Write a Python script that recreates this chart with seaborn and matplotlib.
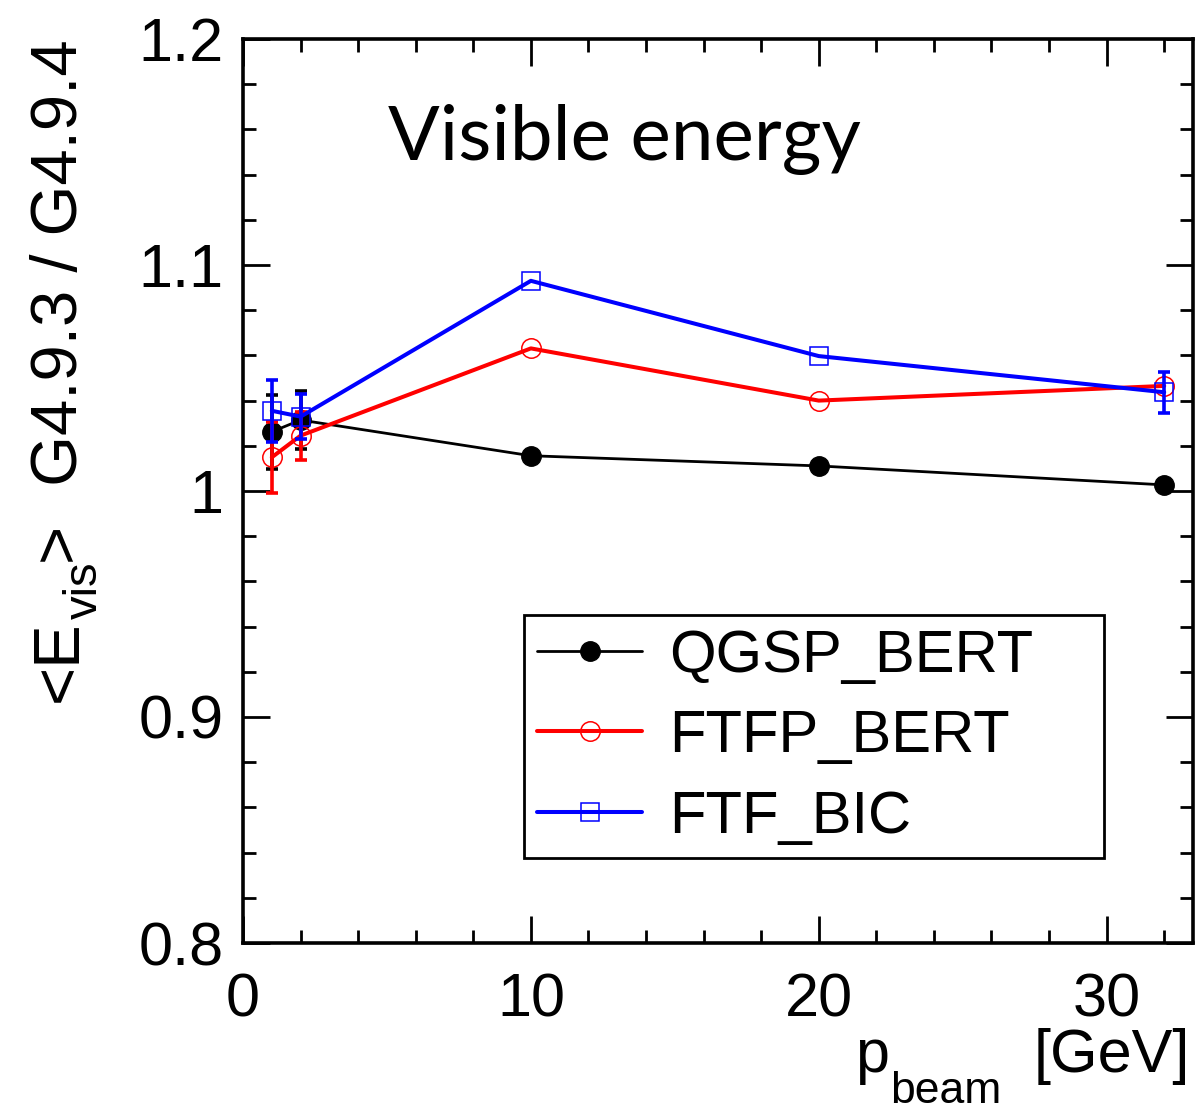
import numpy as np
import pandas as pd
import matplotlib
matplotlib.use("Agg")
import matplotlib.pyplot as plt
from matplotlib.ticker import MultipleLocator, FuncFormatter
from matplotlib.transforms import IdentityTransform
import seaborn as sns

# ---- data ----
p_beam = [1, 2, 10, 20, 32]
qgsp_bert = [1.0262, 1.0314, 1.0156, 1.0111, 1.0027]
qgsp_bert_err = [0.0164, 0.0127, 0.0, 0.0, 0.0]
ftfp_bert = [1.0149, 1.0245, 1.0631, 1.0400, 1.0465]
ftfp_bert_err = [0.0157, 0.0106, 0.0, 0.0, 0.0]
ftf_bic = [1.0355, 1.0329, 1.0930, 1.0597, 1.0437]
ftf_bic_err = [0.0136, 0.0101, 0.0, 0.0, 0.0091]

series_names = ["QGSP_BERT", "FTFP_BERT", "FTF_BIC"]

sns.set_theme(style="ticks")
plt.rcParams["font.family"] = ["Liberation Sans", "DejaVu Sans"]
for k in ["text.color", "axes.labelcolor", "xtick.color", "ytick.color", "axes.edgecolor"]:
    plt.rcParams[k] = "black"

W, H = 1202, 1115
fig = plt.figure(figsize=(W / 100, H / 100), dpi=100)
ax = fig.add_axes([243 / W, 1 - 943 / H, 950 / W, 904 / H])

styles = [
    dict(color="black", marker="o", mfc="black", mec="black", lw=2.0, ms=14, mew=1.0),
    dict(color="red", marker="o", mfc="none", mec="red", lw=2.9, ms=14, mew=1.1),
    dict(color="blue", marker="s", mfc="none", mec="blue", lw=2.9, ms=13, mew=1.1),
]
values = [qgsp_bert, ftfp_bert, ftf_bic]
errors = [qgsp_bert_err, ftfp_bert_err, ftf_bic_err]

for name, vals, errs, st in zip(series_names, values, errors, styles):
    df = pd.DataFrame({"p": p_beam, "r": vals})
    sns.lineplot(data=df, x="p", y="r", ax=ax, color=st["color"], lw=st["lw"],
                 marker=st["marker"], markerfacecolor=st["mfc"],
                 markeredgecolor=st["mec"], markersize=st["ms"],
                 markeredgewidth=st["mew"], label=name, sort=False)
    e = np.array(errs)
    mask = e > 0
    ax.errorbar(np.array(p_beam)[mask], np.array(vals)[mask], yerr=e[mask],
                fmt="none", ecolor=st["color"], elinewidth=2.6, capsize=4,
                capthick=2.6)

ax.set_xlim(0, 33)
ax.set_ylim(0.8, 1.2)
ax.xaxis.set_major_locator(MultipleLocator(10))
ax.xaxis.set_minor_locator(MultipleLocator(2))
ax.yaxis.set_major_locator(MultipleLocator(0.1))
ax.yaxis.set_minor_locator(MultipleLocator(0.02))
ax.yaxis.set_major_formatter(FuncFormatter(lambda v, p: "%g" % round(v, 3)))
ax.xaxis.set_major_formatter(FuncFormatter(lambda v, p: "%g" % v))

ax.tick_params(which="both", direction="in", top=True, right=True,
               width=2.0, colors="black", labelsize=44)
ax.tick_params(which="major", length=19.5)
ax.tick_params(which="minor", length=9.5)
ax.tick_params(axis="y", which="major", pad=14)
ax.tick_params(axis="x", which="major", pad=21)
for s in ax.spines.values():
    s.set_linewidth(2.6)
    s.set_color("black")
    s.set_visible(True)
ax.set_xlabel("")
ax.set_ylabel("")

ax.text(0.153, 0.866, "Visible energy", transform=ax.transAxes,
        fontsize=55, family=["Lato", "DejaVu Sans"], va="baseline", ha="left")

leg = ax.legend(loc="lower left", bbox_to_anchor=(0.296, 0.094, 0.61, 0.27),
                mode="expand", fontsize=43, frameon=True, fancybox=False,
                handlelength=1.75, handletextpad=0.45, borderpad=0.22,
                labelspacing=0.43, borderaxespad=0)
leg.get_frame().set_edgecolor("black")
leg.get_frame().set_linewidth(2.0)
leg.get_frame().set_alpha(1)

# ---- axis titles built from pieces (ROOT-style big, low subscripts) ----
fig.canvas.draw()
renderer = fig.canvas.get_renderer()
ident = IdentityTransform()

# x title: "p_beam [GeV]"
xb = H - 1072  # baseline (display coords, from bottom)
t = fig.text(855, xb, "p", fontsize=44, transform=ident, ha="left", va="baseline")
bb = t.get_window_extent(renderer)
fig.text(bb.x1 + 1, xb - 31, "beam", fontsize=32, transform=ident, ha="left", va="baseline")
fig.text(1190, xb, "[GeV]", fontsize=44, transform=ident, ha="right", va="baseline")

# y title: "<E_vis>  G4.9.3 / G4.9.4" (rotated, reading upward)
yx = 77  # baseline x
y = H - 702
pieces = [("<E", 47, 0), ("vis", 34, 20), (">", 47, 0), ("  G4.9.3 / G4.9.4", 47, 0)]
for s, fs, dx in pieces:
    t = fig.text(yx + dx, y, s, fontsize=fs, transform=ident, rotation=90,
                 rotation_mode="anchor", ha="left", va="baseline")
    bb = t.get_window_extent(renderer)
    y = bb.y1 + 1

fig.savefig("out.png", dpi=100)
